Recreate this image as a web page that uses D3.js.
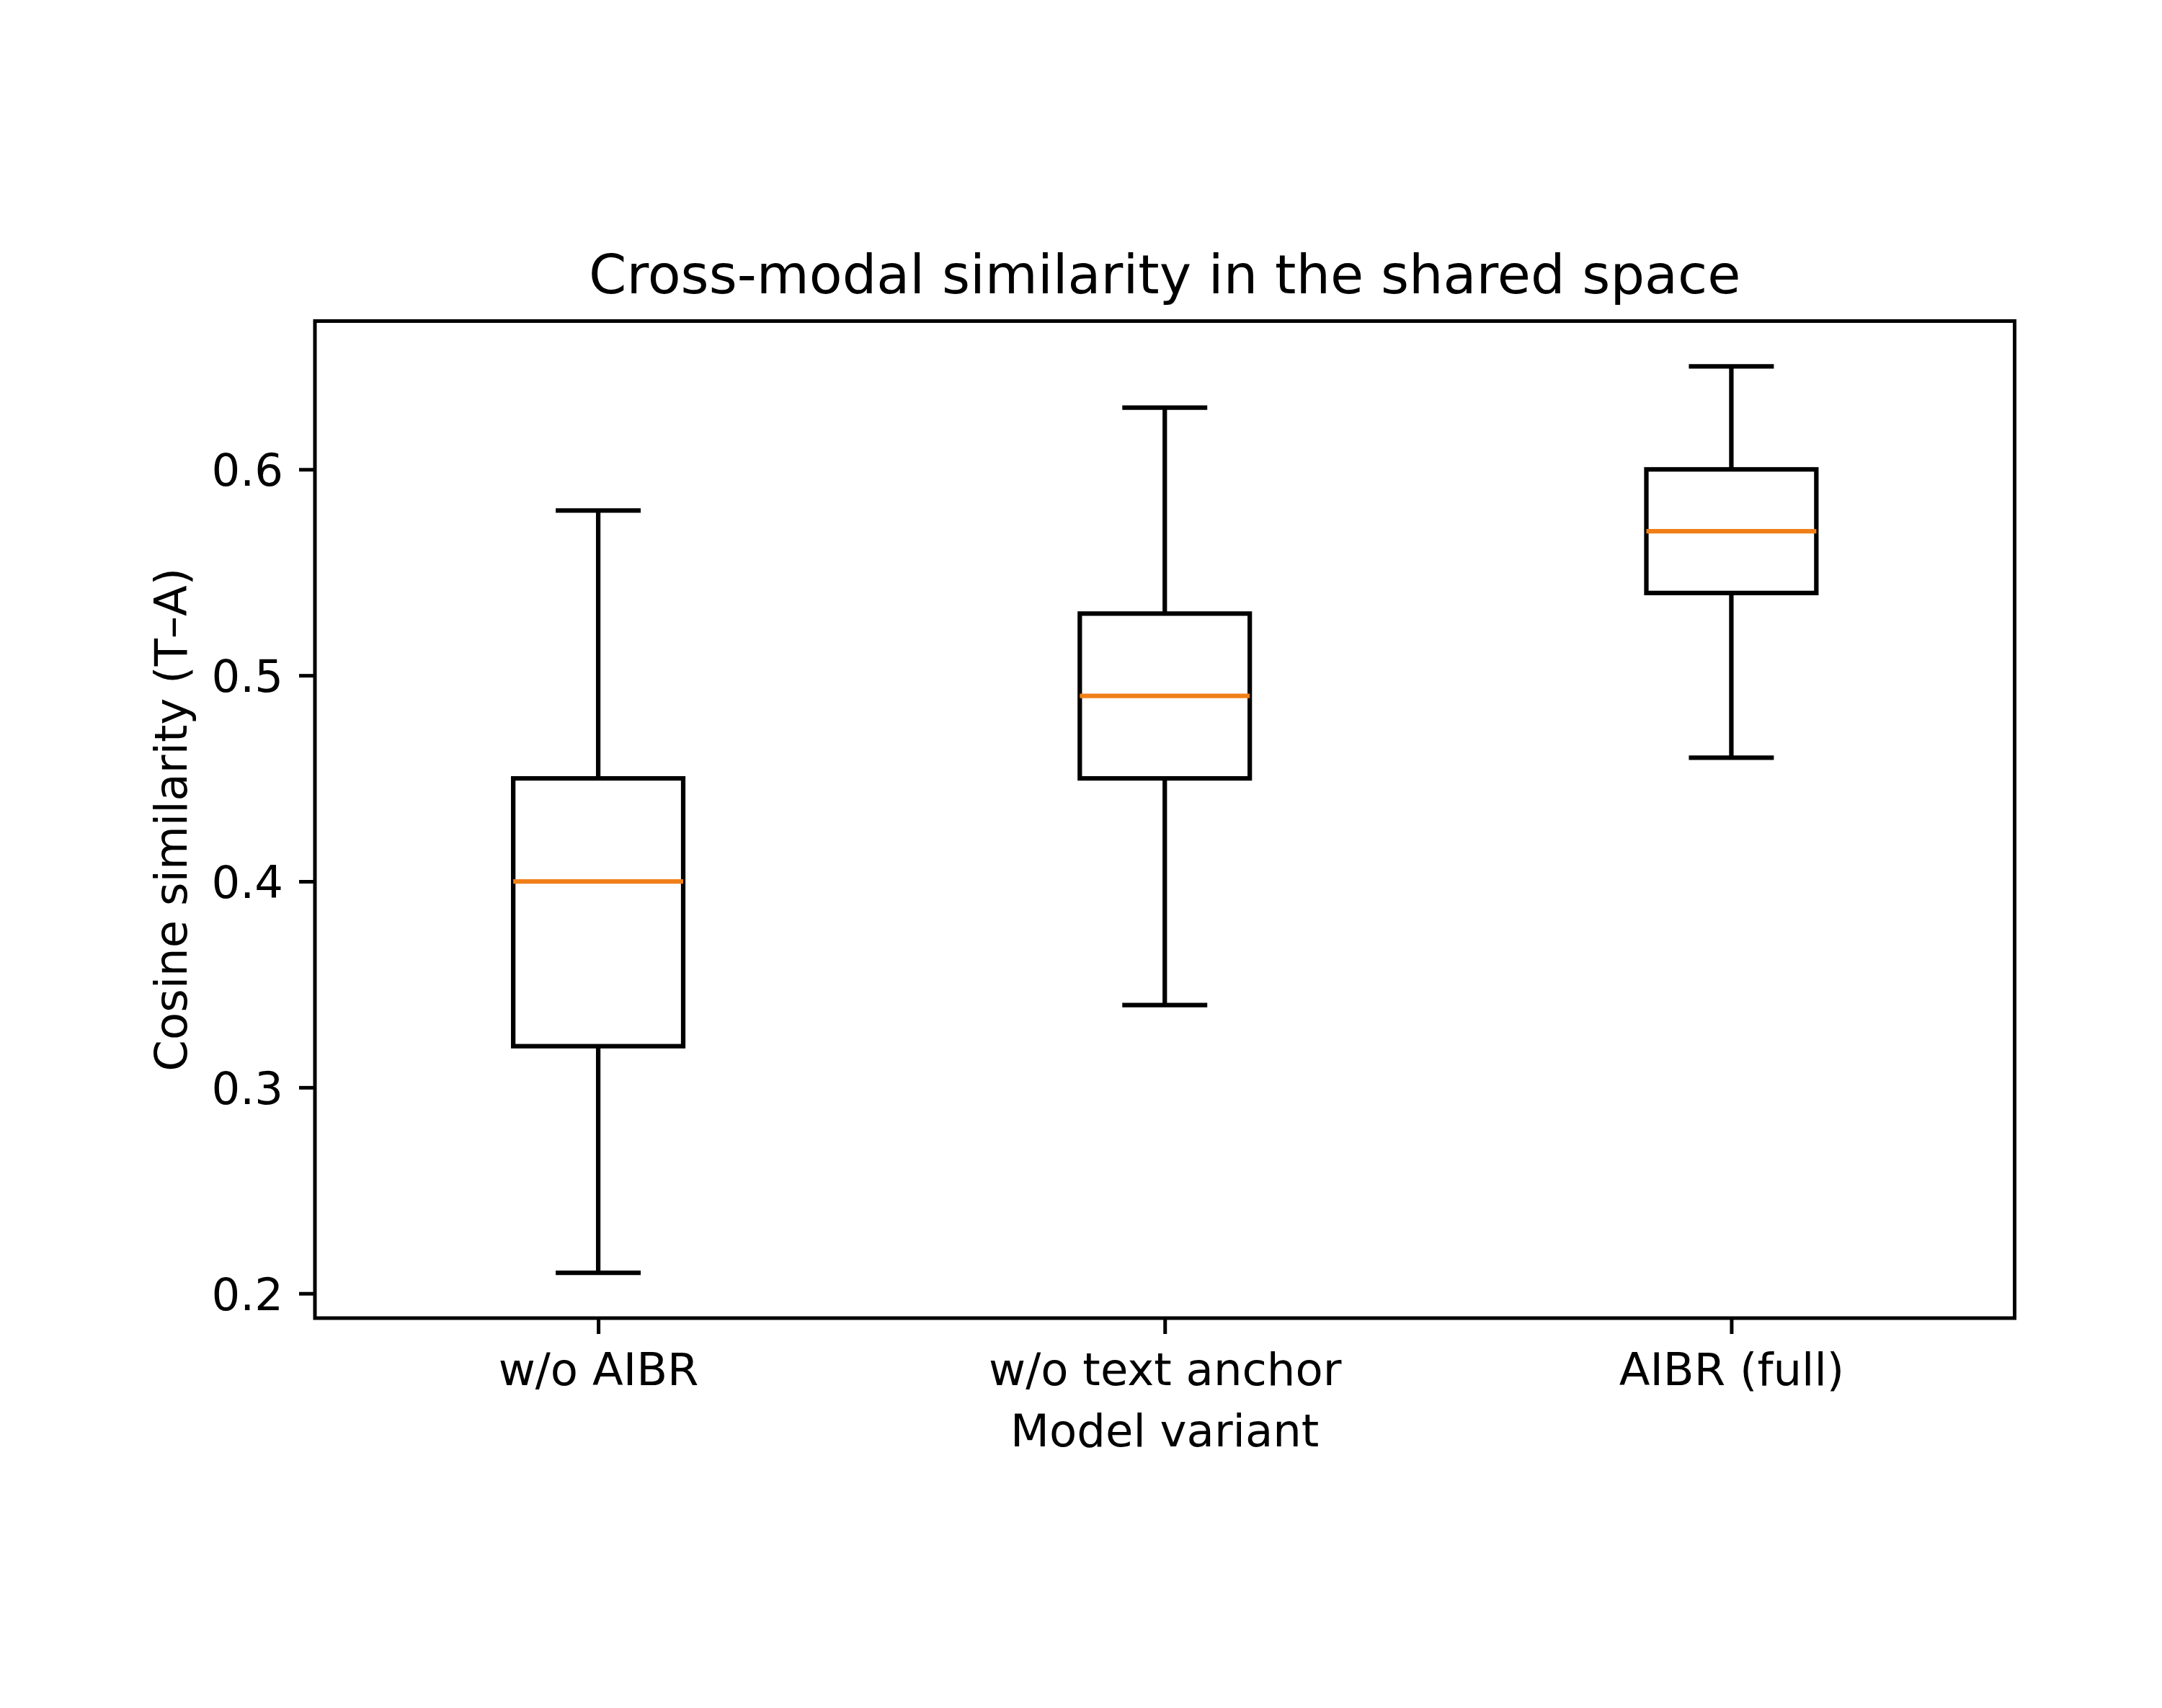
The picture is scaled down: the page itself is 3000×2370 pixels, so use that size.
<!DOCTYPE html>
<html>
<head>
<meta charset="utf-8">
<script src="https://cdn.jsdelivr.net/npm/d3@7"></script>
<style>
  body { margin: 0; background: #fff; }
  text { font-family: "DejaVu Sans", sans-serif; fill: #000; }
</style>
</head>
<body>
<div id="c1"></div>
<script>
// Data
var categories = ["w/o AIBR", "w/o text anchor", "AIBR (full)"];
var whiskerLow = [0.21, 0.34, 0.46];
var q1 = [0.32, 0.45, 0.54];
var median = [0.40, 0.49, 0.57];
var q3 = [0.45, 0.53, 0.60];
var whiskerHigh = [0.58, 0.63, 0.65];
var yTicks = [0.2, 0.3, 0.4, 0.5, 0.6];

var w = 3000;
var h = 2370;
// plot area (window.top is reserved, so use other names)
var axL = 437, axR = 2795.5, axT = 445.5, axB = 1829;
var lw = 6.25; // 1pt

var boxes = categories.map(function (c, i) {
    return {name: c, pos: i + 1, lo: whiskerLow[i], q1: q1[i], med: median[i], q3: q3[i], hi: whiskerHigh[i]};
});

var svg = d3.select("#c1").append("svg")
    .attr("width", w)
    .attr("height", h);

svg.append("rect").attr("width", w).attr("height", h).attr("fill", "#fff");

// matplotlib-style autoscale: 5% margin around data
var dmin = d3.min(whiskerLow), dmax = d3.max(whiskerHigh);
var pad = (dmax - dmin) * 0.05;

var x = d3.scaleLinear().domain([0.5, 3.5]).range([axL, axR]);
var y = d3.scaleLinear().domain([dmin - pad, dmax + pad]).range([axB, axT]);

var boxW = 0.3, capW = 0.15;

var g = svg.selectAll("g.box")
    .data(boxes)
    .enter()
    .append("g")
    .attr("class", "box");

// whiskers
g.append("line")
    .attr("x1", function (d) { return x(d.pos); })
    .attr("x2", function (d) { return x(d.pos); })
    .attr("y1", function (d) { return y(d.q1); })
    .attr("y2", function (d) { return y(d.lo); })
    .attr("stroke", "#000").attr("stroke-width", lw);
g.append("line")
    .attr("x1", function (d) { return x(d.pos); })
    .attr("x2", function (d) { return x(d.pos); })
    .attr("y1", function (d) { return y(d.q3); })
    .attr("y2", function (d) { return y(d.hi); })
    .attr("stroke", "#000").attr("stroke-width", lw);

// caps
["lo", "hi"].forEach(function (k) {
    g.append("line")
        .attr("x1", function (d) { return x(d.pos - capW / 2); })
        .attr("x2", function (d) { return x(d.pos + capW / 2); })
        .attr("y1", function (d) { return y(d[k]); })
        .attr("y2", function (d) { return y(d[k]); })
        .attr("stroke", "#000").attr("stroke-width", lw);
});

// box
g.append("rect")
    .attr("x", function (d) { return x(d.pos - boxW / 2); })
    .attr("y", function (d) { return y(d.q3); })
    .attr("width", function (d) { return x(d.pos + boxW / 2) - x(d.pos - boxW / 2); })
    .attr("height", function (d) { return y(d.q1) - y(d.q3); })
    .attr("fill", "none")
    .attr("stroke", "#000").attr("stroke-width", lw)
    .attr("stroke-linejoin", "miter");

// median
g.append("line")
    .attr("x1", function (d) { return x(d.pos - boxW / 2); })
    .attr("x2", function (d) { return x(d.pos + boxW / 2); })
    .attr("y1", function (d) { return y(d.med); })
    .attr("y2", function (d) { return y(d.med); })
    .attr("stroke", "#f07f18").attr("stroke-width", lw);

// axes
var yAxis = d3.axisLeft(y).tickValues(yTicks).tickSize(22).tickPadding(22)
    .tickFormat(d3.format(".1f"));
var xAxis = d3.axisBottom(x).tickValues([1, 2, 3]).tickSize(22).tickPadding(22)
    .tickFormat(function (d) { return categories[d - 1]; });

var ya = svg.append("g").attr("transform", "translate(" + axL + ",0)").call(yAxis);
var xa = svg.append("g").attr("transform", "translate(0," + axB + ")").call(xAxis);

[ya, xa].forEach(function (a) {
    a.select(".domain").remove();
    a.selectAll(".tick line").attr("stroke", "#000").attr("stroke-width", 5);
    a.selectAll(".tick text")
        .style("font-family", "DejaVu Sans")
        .style("font-size", "62.5px")
        .attr("fill", "#000");
});
ya.selectAll(".tick text").attr("dy", "0.36em");
xa.selectAll(".tick text").attr("dy", "0").attr("y", 93);

// frame
svg.append("rect")
    .attr("x", axL).attr("y", axT)
    .attr("width", axR - axL).attr("height", axB - axT)
    .attr("fill", "none").attr("stroke", "#000").attr("stroke-width", 5)
    .attr("stroke-linejoin", "miter");

// labels
var cx = (axL + axR) / 2;
svg.append("text")
    .attr("x", cx).attr("y", 407)
    .attr("text-anchor", "middle")
    .style("font-size", "75px")
    .text("Cross-modal similarity in the shared space");

svg.append("text")
    .attr("x", cx).attr("y", 2007)
    .attr("text-anchor", "middle")
    .style("font-size", "62.5px")
    .text("Model variant");

svg.append("text")
    .attr("transform", "translate(259," + (axT + axB) / 2 + ") rotate(-90)")
    .attr("text-anchor", "middle")
    .style("font-size", "62.5px")
    .text("Cosine similarity (T\u2013A)");
</script>
</body>
</html>
